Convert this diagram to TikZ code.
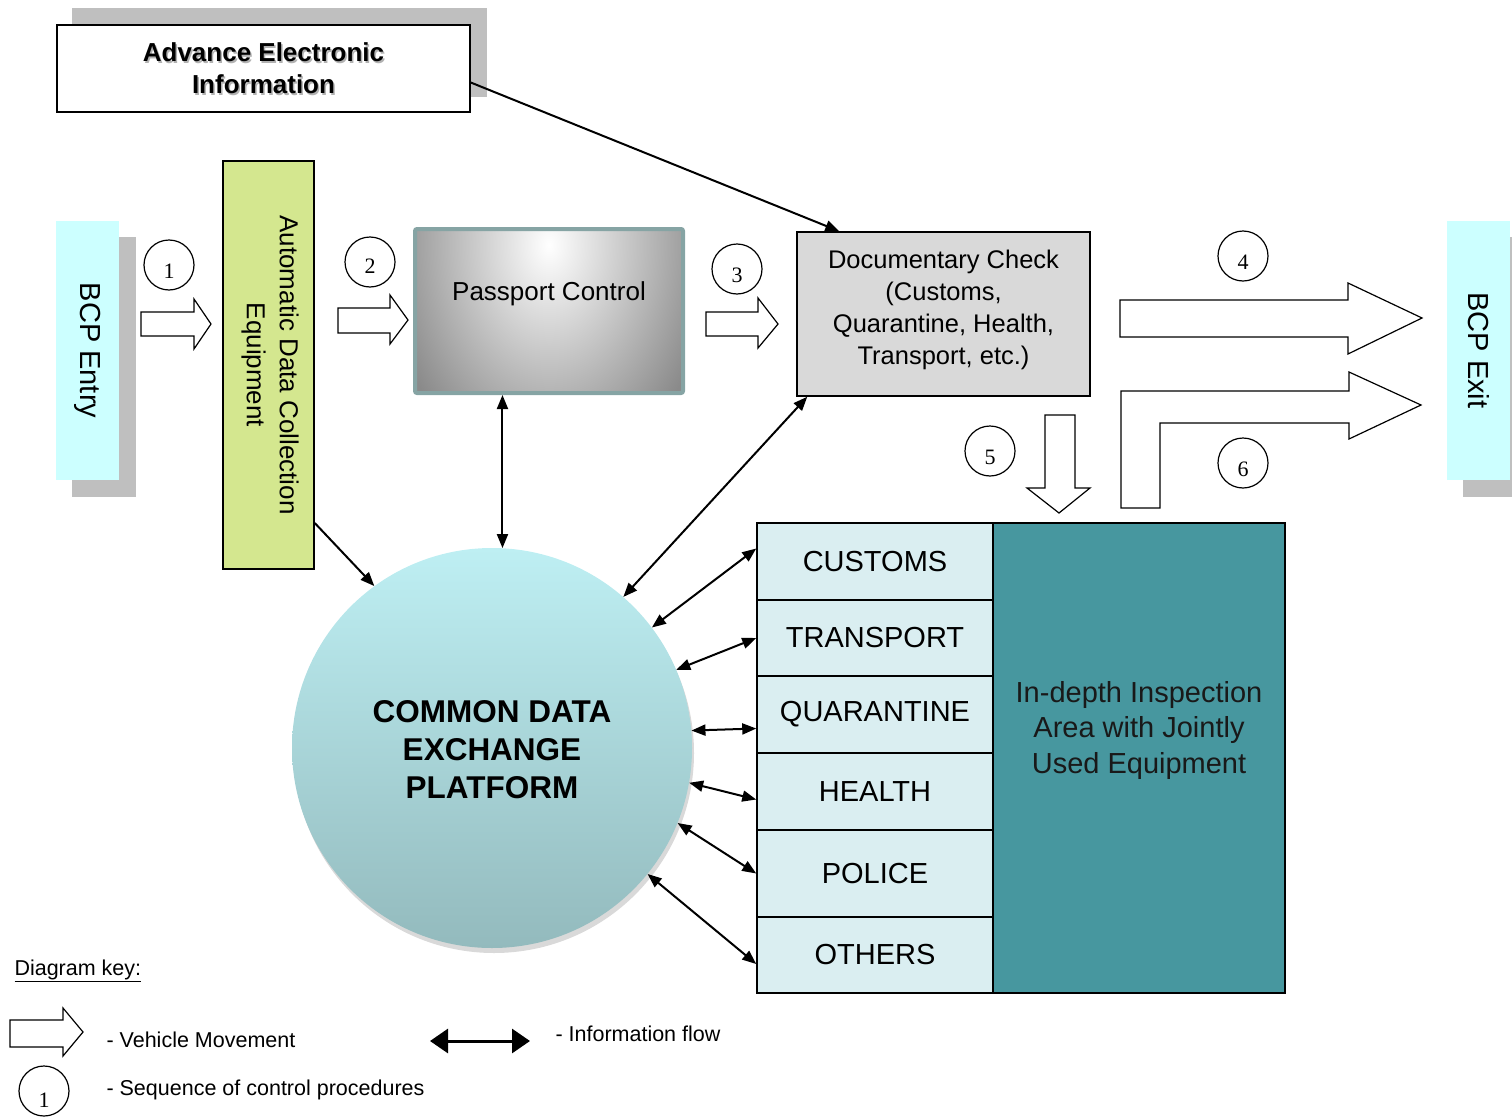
\documentclass[tikz,border=0pt]{standalone}
\usepackage{fontspec}
\setmainfont{Liberation Sans}
\newfontfamily\numfont{Liberation Serif}
\usetikzlibrary{arrows.meta,shadows}

\definecolor{bcpcyan}{HTML}{CCFFFF}
\definecolor{shadegray}{HTML}{BFBFBF}
\definecolor{adcgreen}{HTML}{D4E78F}
\definecolor{passborder}{HTML}{86A4A4}
\definecolor{docgray}{HTML}{D9D9D9}
\definecolor{cdeptop}{HTML}{BEEFF3}
\definecolor{cdepbot}{HTML}{93BABD}
\definecolor{agencyfill}{HTML}{DAEEF1}
\definecolor{inspteal}{HTML}{47979F}

\newcommand{\fs}[2]{\fontsize{#1}{#2}\selectfont}
\newcommand{\stepdigit}[2][-13pt]{\raisebox{#1}[0pt][0pt]{#2}}

\tikzset{
  stepnum/.style={draw,circle,minimum size=50pt,inner sep=0pt,line width=1.2pt,
    font=\numfont\fs{22}{22}},
  agency/.style={draw,fill=agencyfill,line width=1.5pt,minimum width=236pt,
    inner sep=0pt,font=\fs{29}{30}},
  movearrow/.style={draw,fill=white,line width=1.2pt,line join=miter},
  onearrow/.style={-{Triangle[length=14pt,width=11pt]},line width=2pt},
  infoflow/.style={{Triangle[length=14pt,width=11pt]}-{Triangle[length=14pt,width=11pt]},line width=2pt},
  keyflow/.style={{Triangle[length=18pt,width=24pt]}-{Triangle[length=18pt,width=24pt]},line width=3pt},
}

\begin{document}
\begin{tikzpicture}[x=1pt,y=-1pt]
  \useasboundingbox (0,0) rectangle (1512,1116);

  % advance information
  \node[fill=gray!50,minimum width=415pt,minimum height=89pt] (aeishadow) at (279.5,52.5) {};
  \node[draw,fill=white,line width=1.5pt,minimum width=413pt,minimum height=87pt] (aei) at (263.5,68.5) {};
  \node[align=center,font=\bfseries\fs{26}{32},text=gray!60] (aeitxtshadow) at (265,70) {Advance Electronic\\Information};
  \node[align=center,font=\bfseries\fs{26}{32}] (aeitxt) at (263.5,68.5) {Advance Electronic\\Information};

  % entry and exit
  \node[fill=shadegray,minimum width=64pt,minimum height=260pt] (entryshadow) at (103.5,367) {};
  \node[fill=bcpcyan,minimum width=63pt,minimum height=259pt] (entry) at (87.5,350.5) {};
  \node[rotate=-90,font=\fs{29}{32}] (entrytxt) at (entry) {BCP Entry};
  \node[fill=shadegray,minimum width=64pt,minimum height=260pt] (exitshadow) at (1494.5,366.5) {};
  \node[fill=bcpcyan,minimum width=63pt,minimum height=259pt] (exit) at (1478.5,350.5) {};
  \node[rotate=-90,font=\fs{29}{32}] (exittxt) at (exit) {BCP Exit};

  % control points
  \node[draw,fill=adcgreen,line width=1.5pt,minimum width=91pt,minimum height=408pt] (adc) at (268.5,365) {};
  \node[rotate=-90,align=center,font=\fs{26}{33}] (adctxt) at (270,365) {Automatic Data Collection\\Equipment};
  \node[draw=passborder,fill=gray!92,line width=4pt,rounded corners=2pt,minimum width=268pt,minimum height=164pt,
    path picture={\shade[inner color=white,outer color=gray!92] ([yshift=-16pt]path picture bounding box.north) ellipse (165pt and 230pt);}] (pass) at (549,311) {};
  \node[font=\fs{26}{30}] (passtxt) at (549,294) {Passport Control};
  \node[draw,fill=docgray,line width=1.5pt,minimum width=293pt,minimum height=164pt] (doc) at (943.5,314) {};
  \node[align=center,font=\fs{25.5}{32}] (doctxt) at (943.5,310) {Documentary Check\\(Customs,\\Quarantine, Health,\\Transport, etc.)};

  % platform
  \node[circle,minimum size=400pt,inner sep=0pt,top color=cdeptop,bottom color=cdepbot,
    drop shadow={shadow xshift=2pt,shadow yshift=-5pt,opacity=0.3}] (cdep) at (492,748) {};
  \node[align=center,font=\bfseries\fs{31.5}{38}] (cdeptxt) at (492,750) {COMMON DATA\\EXCHANGE\\PLATFORM};

  % agencies
  \node[agency,minimum height=77pt] (customs) at (875,561.5) {CUSTOMS};
  \node[agency,minimum height=76pt] (transport) at (875,638) {TRANSPORT};
  \node[agency,minimum height=77pt] (quar) at (875,714.5) {QUARANTINE};
  \node[agency,minimum height=77pt] (health) at (875,791.5) {HEALTH};
  \node[agency,minimum height=87pt] (police) at (875,873.5) {POLICE};
  \node[agency,minimum height=76pt] (others) at (875,955) {OTHERS};
  \node[draw,fill=inspteal,line width=1.5pt,minimum width=292pt,minimum height=470pt] (insp) at (1139,758) {};
  \node[align=center,font=\fs{29}{35.5},text=black!90] (insptxt) at (1139,730) {In-depth Inspection\\Area with Jointly\\Used Equipment};

  % vehicle movement
  \draw[movearrow] (141,312) -- (194,312) -- (194,299) -- (211,324) -- (194,349) -- (194,336) -- (141,336) -- cycle;
  \draw[movearrow] (338,308) -- (390,308) -- (390,295) -- (408,320) -- (390,344) -- (390,333) -- (338,333) -- cycle;
  \draw[movearrow] (706,312) -- (758,312) -- (758,298) -- (778,324) -- (758,348) -- (758,336) -- (706,336) -- cycle;
  \draw[movearrow] (1120,300) -- (1348,300) -- (1348,283) -- (1422,318) -- (1348,354) -- (1348,337) -- (1120,337) -- cycle;
  \draw[movearrow] (1045,415) -- (1075,415) -- (1075,488) -- (1090,488) -- (1059,513) -- (1027,488) -- (1045,488) -- cycle;
  \draw[movearrow] (1121,508) -- (1121,391) -- (1349,391) -- (1349,372) -- (1421,405) -- (1349,439) -- (1349,423)
    -- (1160,423) -- (1160,508) -- cycle;

  % sequence
  \node[stepnum] (s1) at (169,265) {\stepdigit{1}};
  \node[stepnum] (s2) at (370,262) {\stepdigit[-11pt]{2}};
  \node[stepnum] (s3) at (737,269) {\stepdigit{3}};
  \node[stepnum] (s4) at (1243,256) {\stepdigit{4}};
  \node[stepnum] (s5) at (990,451) {\stepdigit{5}};
  \node[stepnum] (s6) at (1243,463) {\stepdigit{6}};

  % information flow
  \draw[onearrow] ([yshift=-14pt]aei.east) -- ([xshift=43pt]doc.north west);
  \draw[onearrow] ([yshift=-158pt]adc.east) -- (cdep.126);
  \draw[infoflow] (cdep.87 |- pass.south) -- (cdep.87);
  \draw[infoflow] ([xshift=11pt]doc.south west) -- (cdep.49);
  \draw[infoflow] (cdep.37) -- ([yshift=13pt]customs.west);
  \draw[infoflow] (cdep.23) -- (transport.west);
  \draw[infoflow] (cdep.5.5) -- ([yshift=-14pt]quar.west);
  \draw[infoflow] (cdep.-10) -- ([yshift=-8pt]health.west);
  \draw[infoflow] (cdep.-22.4) -- (police.west);
  \draw[infoflow] (cdep.-39.5) -- ([yshift=-9pt]others.west);

  % key
  \node[anchor=west,font=\fs{21.5}{24}] (keytitle) at (11,971) {\underline{Diagram key:}};
  \draw[movearrow] (10,1020) -- (63,1020) -- (63,1008) -- (83,1032) -- (63,1056) -- (63,1047) -- (10,1047) -- cycle;
  \node[anchor=west,font=\fs{21.5}{24}] (keyveh) at (103,1040) {- Vehicle Movement};
  \node[stepnum] (keynum) at (44,1091) {\stepdigit[-16pt]{1}};
  \node[anchor=west,font=\fs{21.5}{24}] (keyseq) at (103,1090) {- Sequence of control procedures};
  \coordinate (keyl) at (430,1041);
  \coordinate (keyr) at (530,1041);
  \draw[keyflow] (keyl) -- (keyr);
  \node[anchor=west,font=\fs{21.5}{24}] (keyinfo) at (552,1034) {- Information flow};
\end{tikzpicture}
\end{document}
